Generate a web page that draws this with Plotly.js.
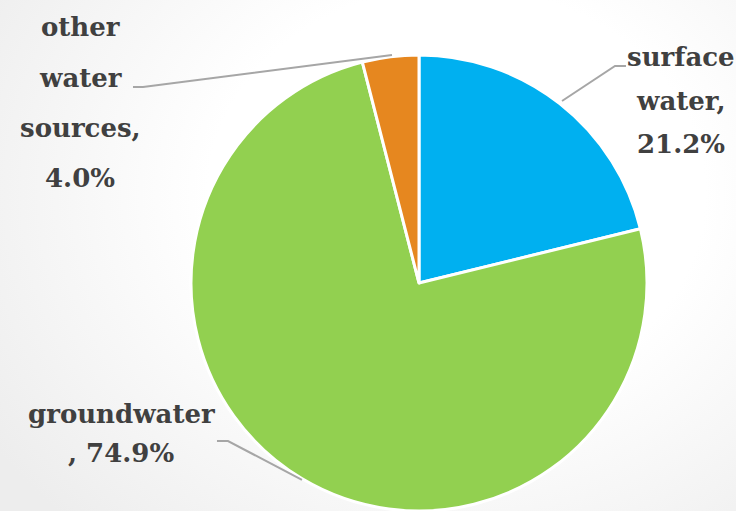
<!DOCTYPE html>
<html>
<head>
<meta charset="utf-8">
<script src="https://cdn.plot.ly/plotly-3.0.1.min.js"></script>
<style>
  html, body { margin: 0; padding: 0; }
  body {
    width: 736px; height: 511px; overflow: hidden;
    background: radial-gradient(ellipse 75% 90% at 62% 38%, #ffffff 45%, #ededed 100%);
  }
  #chart { width: 736px; height: 511px; }
</style>
</head>
<body>
<div id="chart"></div>
<script>
// ---- data ----
const categories = ["surface water", "groundwater", "other water sources"];
const shares = [21.2, 74.9, 4.0];
const sliceColors = ["#00B0F0", "#92D050", "#E6871F"];
// label text lines as displayed (percentage appended from shares)
const labelLines = [
  ["surface", "water,"],
  ["groundwater"],
  ["other", "water", "sources,"]
];
const pctPrefix = ["", ", ", ""];

// ---- layout helpers (pixel -> paper) ----
const W = 736, H = 511;
const px = x => x / W;
const py = y => 1 - y / H;

const trace = {
  type: "pie",
  labels: categories,
  values: shares,
  sort: false,
  direction: "clockwise",
  rotation: 0,
  textinfo: "none",
  hoverinfo: "label+percent",
  marker: { colors: sliceColors, line: { color: "#ffffff", width: 3 } },
  domain: { x: [px(419 - 228), px(419 + 228)], y: [py(283 + 228), py(283 - 228)] },
  showlegend: false
};

// label placements: center x and baselines in px
const labelPos = [
  { x: 681, baselines: [66, 110, 153] },
  { x: 121, baselines: [423, 462] },
  { x: 80, baselines: [36, 87, 137, 187] }
];

const annotations = [];
categories.forEach((c, i) => {
  const lines = labelLines[i].slice();
  lines.push(pctPrefix[i] + shares[i].toFixed(1) + "%");
  lines.forEach((t, j) => {
    annotations.push({
      xref: "paper", yref: "paper",
      x: px(labelPos[i].x), y: py(labelPos[i].baselines[j] - 9),
      xanchor: "center", yanchor: "middle",
      text: "<b>" + t + "</b>",
      showarrow: false,
      font: { family: "DejaVu Serif", size: 26, color: "#404040" }
    });
  });
});

function path(pts) {
  return pts.map((p, k) => (k ? "L" : "M") + px(p[0]).toFixed(4) + "," + py(p[1]).toFixed(4)).join(" ");
}
const lineStyle = { color: "#a6a6a6", width: 2 };
const shapes = [
  { type: "path", xref: "paper", yref: "paper", path: path([[562, 101], [615, 66], [626, 66]]), line: lineStyle },
  { type: "path", xref: "paper", yref: "paper", path: path([[217, 441], [228, 441], [302, 480]]), line: lineStyle },
  { type: "path", xref: "paper", yref: "paper", path: path([[392, 55], [143, 87], [133, 87]]), line: lineStyle }
];

const layout = {
  width: W, height: H,
  margin: { l: 0, r: 0, t: 0, b: 0 },
  paper_bgcolor: "rgba(0,0,0,0)",
  plot_bgcolor: "rgba(0,0,0,0)",
  font: { family: "DejaVu Serif" },
  annotations: annotations,
  shapes: shapes
};

Plotly.newPlot("chart", [trace], layout, { displayModeBar: false, staticPlot: true });
</script>
</body>
</html>
